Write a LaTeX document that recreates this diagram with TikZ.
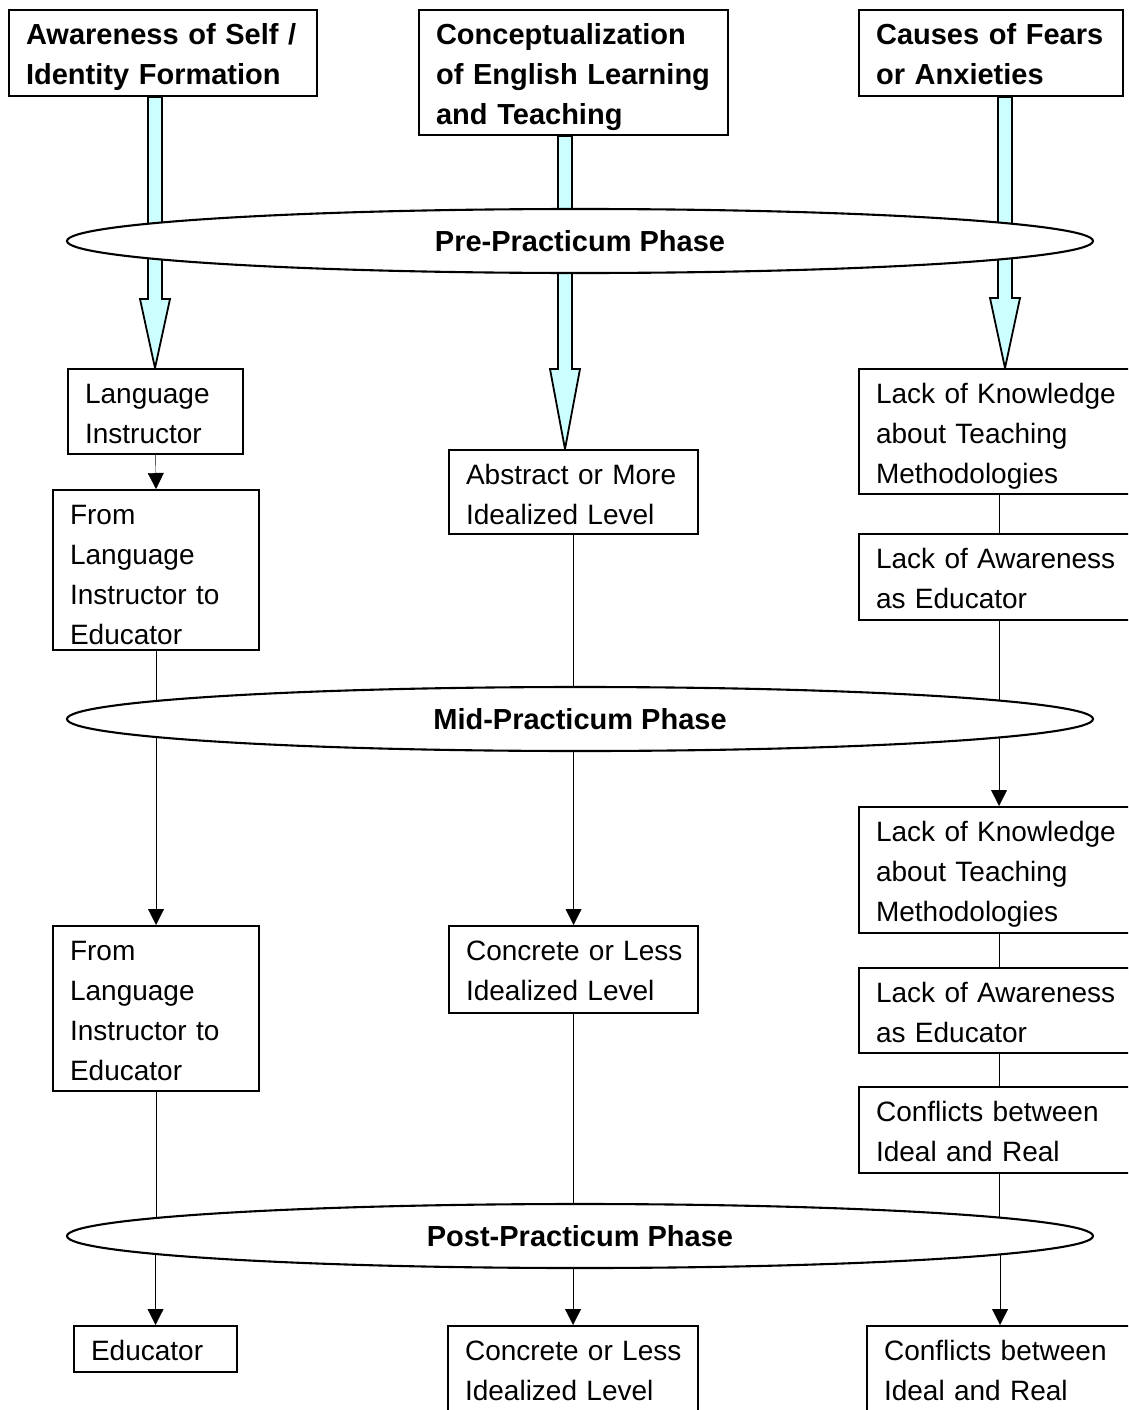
\documentclass[tikz,border=0pt]{standalone}
\usepackage{fontspec}
\setmainfont{Liberation Sans}
\usetikzlibrary{shapes.geometric,arrows.meta,calc}
\pgfdeclarelayer{bg}
\pgfsetlayers{bg,main}
\definecolor{paleCyan}{RGB}{204,255,255}

% broad hollow arrow from a heading box down to the first box of its column
\newcommand{\fatarrow}[4]{%
  \path[fatarrow] let \p1=(#2.south), \p2=(#3.north) in
    (#1pt-7pt,\y1) -- (#1pt-7pt,\y2+#4pt) -- (#1pt-15pt,\y2+#4pt) -- (#1pt,\y2)
    -- (#1pt+15pt,\y2+#4pt) -- (#1pt+7pt,\y2+#4pt) -- (#1pt+7pt,\y1) -- cycle;}

\begin{document}
\begin{tikzpicture}[x=1pt,y=-1pt,
  line width=2.1pt,
  box/.style 2 args={draw, fill=white, anchor=north west, align=left,
    inner xsep=17pt, inner ysep=0pt, text width=#1pt-34pt,
    text height=34pt, text depth=#2pt-34pt,
    font=\fontsize{28}{40}\selectfont},
  head/.style={font=\fontsize{29}{40}\selectfont\bfseries},
  phase/.style={draw, fill=white, ellipse, minimum width=1026pt,
    minimum height=64pt, inner sep=0pt,
    font=\fontsize{29}{40}\selectfont\bfseries},
  fatarrow/.style={draw, fill=paleCyan, line width=1.8pt, line join=miter},
  link/.style={draw},
  flow/.style={draw, -{Triangle[length=16pt,width=16pt]}}]

\useasboundingbox (0,0) rectangle (1128,1410);
\clip (0,0) rectangle (1128,1410);

% headings
\node[box={308}{86}, head] (selfH) at (8,9) {Awareness of Self /\\Identity Formation};
\node[box={309}{125}, head] (concH) at (418,9) {Conceptualization\\of English Learning\\and Teaching};
\node[box={264}{86}, head] (fearH) at (858,9) {Causes of Fears\\or Anxieties};

% phases
\node[phase] (pre)  at (580,241)  {Pre-Practicum Phase};
\node[phase] (mid)  at (580,719)  {Mid-Practicum Phase};
\node[phase] (post) at (580,1236) {Post-Practicum Phase};

% left column
\node[box={175}{85}]  (lang1) at (67,368)  {Language\\Instructor};
\node[box={206}{160}] (from1) at (52,489)  {From\\Language\\Instructor to\\Educator};
\node[box={206}{165}] (from2) at (52,925)  {From\\Language\\Instructor to\\Educator};
\node[box={163}{46}]  (edu)   at (73,1325) {Educator};

% middle column
\node[box={249}{84}]  (abs)   at (448,449)  {Abstract or More\\Idealized Level};
\node[box={249}{87}]  (conc1) at (448,925)  {\mbox{Concrete or Less}\\Idealized Level};
\node[box={250}{100}] (conc2) at (447,1325) {\mbox{Concrete or Less}\\Idealized Level};

% right column
\node[box={280}{125}] (know1)  at (858,368)  {Lack of Knowledge\\about Teaching\\Methodologies};
\node[box={280}{86}]  (aware1) at (858,533)  {Lack of Awareness\\as Educator};
\node[box={280}{126}] (know2)  at (858,806)  {Lack of Knowledge\\about Teaching\\Methodologies};
\node[box={280}{85}]  (aware2) at (858,967)  {Lack of Awareness\\as Educator};
\node[box={280}{86}]  (confl1) at (858,1086) {Conflicts between\\Ideal and Real};
\node[box={266}{100}] (confl2) at (866,1325) {Conflicts between\\Ideal and Real};

\begin{pgfonlayer}{bg}
  % broad arrows through the pre-practicum phase
  \fatarrow{155}{selfH}{lang1}{69}
  \fatarrow{565}{concH}{abs}{80}
  \fatarrow{1005}{fearH}{know1}{70}

  % left column
  \path[flow] (lang1.south) -- (from1.north);
  \path[link] (from1.south) -- (from1.south |- mid.center);
  \path[flow] (from2.north |- mid.center) -- (from2.north);
  \path[link] (from2.south) -- (from2.south |- post.center);
  \path[flow] (edu.north |- post.center) -- (edu.north);

  % middle column
  \path[link] (abs.south) -- (abs.south |- mid.center);
  \path[flow] (conc1.north |- mid.center) -- (conc1.north);
  \path[link] (conc1.south) -- (conc1.south |- post.center);
  \path[flow] (conc2.north |- post.center) -- (conc2.north);

  % right column
  \path[link] (know1.south) -- (aware1.north);
  \path[link] (aware1.south) -- (aware1.south |- mid.center);
  \path[flow] (know2.north |- mid.center) -- (know2.north);
  \path[link] (know2.south) -- (aware2.north);
  \path[link] (aware2.south) -- (confl1.north);
  \path[link] (confl1.south) -- (confl1.south |- post.center);
  \path[flow] (confl2.north |- post.center) -- (confl2.north);
\end{pgfonlayer}
\end{tikzpicture}
\end{document}
